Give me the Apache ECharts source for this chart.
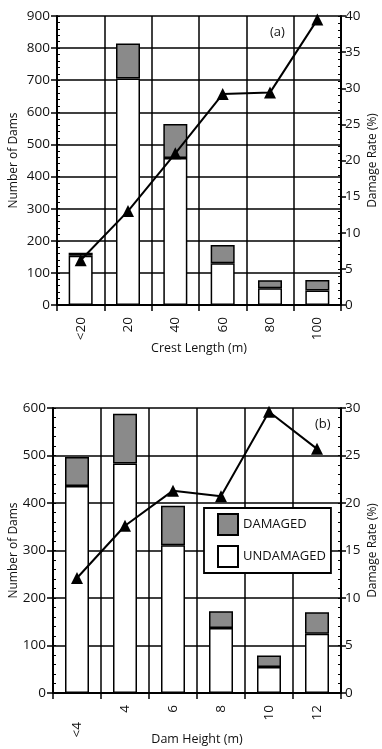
<!DOCTYPE html>
<html><head><meta charset="utf-8">
<script src="https://cdn.jsdelivr.net/npm/echarts@6/dist/echarts.min.js"></script>
<style>html,body{margin:0;padding:0;background:#fff}#c{width:382px;height:749px}</style>
</head><body><div id="c"></div>
<script>
const crestCats = ['<20', '20', '40', '60', '80', '100'];
const crestUndamaged = [153, 705, 458, 130, 52, 45];
const crestDamaged = [10, 109, 106, 57, 25, 33];
const crestRate = [6.2, 13.0, 21.0, 29.2, 29.4, 39.5];

const heightCats = ['<4', '4', '6', '8', '10', '12'];
const heightUndamaged = [436, 483, 311, 137, 55, 125];
const heightDamaged = [61, 105, 83, 35, 24, 45];
const heightRate = [12.1, 17.6, 21.3, 20.7, 29.6, 25.7];

const countAxisA = {min: 0, max: 900, interval: 100};
const rateAxisA = {min: 0, max: 40, interval: 5};
const countAxisB = {min: 0, max: 600, interval: 100};
const rateAxisB = {min: 0, max: 30, interval: 5};

const FONT = 'Open Sans';
const GRAY = '#8a8a8a';
const chart = echarts.init(document.getElementById('c'), null, {renderer: 'canvas'});

function xAxis(gi, cats, name, fmt) {
  return {
    type: 'category', gridIndex: gi, data: cats,
    name: name, nameLocation: 'middle', nameGap: gi === 0 ? 37 : 40, nameMoveOverlap: false,
    nameTextStyle: {fontFamily: FONT, fontSize: 12.5, color: '#111'},
    axisLine: {show: true, lineStyle: {color: '#000', width: 2}},
    axisTick: {show: true, length: 6, lineStyle: {color: '#000', width: 1.5}},
    axisLabel: {rotate: 90, margin: 12, fontFamily: FONT, fontSize: 13.5, color: '#111', formatter: fmt, rich: {off: {fontFamily: FONT, fontSize: 13.5, color: '#111', padding: [0, 17, 0, 0]}}},
    splitLine: {show: true, lineStyle: {color: '#000', width: 1.5}}
  };
}
function leftAxis(gi, cfg) {
  return Object.assign({
    type: 'value', gridIndex: gi, position: 'left',
    name: 'Number of Dams', nameLocation: 'middle', nameRotate: 90, nameGap: gi === 0 ? 37 : 33, nameMoveOverlap: false,
    nameTextStyle: {fontFamily: FONT, fontSize: 12, color: '#111'},
    axisLine: {show: true, lineStyle: {color: '#000', width: 2}},
    axisTick: {show: true, length: 6, lineStyle: {color: '#000', width: 1.5}},
    axisLabel: {margin: 7, fontFamily: FONT, fontSize: 13.5, color: '#111'},
    splitLine: {show: true, lineStyle: {color: '#000', width: 1.5}}
  }, cfg);
}
function rightAxis(gi, cfg) {
  return Object.assign({
    type: 'value', gridIndex: gi, position: 'right',
    name: 'Damage Rate (%)', nameLocation: 'middle', nameRotate: 90, nameGap: 26, nameMoveOverlap: false,
    nameTextStyle: {fontFamily: FONT, fontSize: 12, color: '#111'},
    axisLine: {show: true, lineStyle: {color: '#000', width: 2}},
    axisTick: {show: true, length: 5, lineStyle: {color: '#000', width: 1.5}},
    axisLabel: {margin: 4, fontFamily: FONT, fontSize: 13.5, color: '#111'},
    splitLine: {show: false}
  }, cfg);
}
function minorAxis(gi, pos, cfg) {
  return Object.assign({
    type: 'value', gridIndex: gi, position: pos,
    axisLine: {show: false}, axisLabel: {show: false}, splitLine: {show: false},
    axisTick: {show: true, inside: true, length: 3, lineStyle: {color: '#000', width: 1}},
    minorTick: {show: true, splitNumber: 5, length: 3, lineStyle: {color: '#000', width: 1}}
  }, cfg);
}
const barStyleU = {color: '#fff', borderColor: '#000', borderWidth: 1.5};
const barStyleD = {color: GRAY, borderColor: '#000', borderWidth: 1.5};

chart.setOption({
  animation: false,
  backgroundColor: '#fff',
  textStyle: {fontFamily: FONT},
  grid: [
    {left: 57, right: 41, top: 16, height: 289, containLabel: false, outerBoundsMode: 'none'},
    {left: 53, right: 41, top: 408, height: 285, containLabel: false, outerBoundsMode: 'none'}
  ],
  title: [
    {text: '(a)', left: 265, top: 21, textStyle: {fontFamily: FONT, fontSize: 13, fontWeight: 'normal', color: '#111'}},
    {text: '(b)', left: 310, top: 413, textStyle: {fontFamily: FONT, fontSize: 13, fontWeight: 'normal', color: '#111'}}
  ],
  legend: {
    data: ['DAMAGED', 'UNDAMAGED'], orient: 'vertical', left: 204, top: 508, icon: 'rect',
    padding: [5, 5, 5, 13], itemGap: 9, itemWidth: 20, itemHeight: 21,
    backgroundColor: '#fff', borderColor: '#000', borderWidth: 1.8,
    textStyle: {fontFamily: FONT, fontSize: 13, color: '#111'},
    z: 20
  },
  xAxis: [
    xAxis(0, crestCats, 'Crest Length (m)'),
    xAxis(1, heightCats, 'Dam Height (m)', function (v) { return v === heightCats[0] ? '{off|' + v + '}' : v; })
  ],
  yAxis: [
    leftAxis(0, countAxisA),
    rightAxis(0, rateAxisA),
    minorAxis(0, 'left', countAxisA),
    minorAxis(0, 'right', rateAxisA),
    leftAxis(1, countAxisB),
    rightAxis(1, rateAxisB),
    minorAxis(1, 'left', countAxisB),
    minorAxis(1, 'right', rateAxisB)
  ],
  series: [
    {type: 'bar', name: 'UNDAMAGED_A', xAxisIndex: 0, yAxisIndex: 0, stack: 'a', barWidth: 24, data: crestUndamaged, itemStyle: barStyleU},
    {type: 'bar', name: 'DAMAGED_A', xAxisIndex: 0, yAxisIndex: 0, stack: 'a', barWidth: 24, data: crestDamaged, itemStyle: barStyleD},
    {type: 'line', name: 'RATE_A', xAxisIndex: 0, yAxisIndex: 1, data: crestRate, symbol: 'triangle', symbolSize: 12,
      lineStyle: {color: '#000', width: 2}, itemStyle: {color: '#000'}, z: 5},
    {type: 'bar', name: 'UNDAMAGED', xAxisIndex: 1, yAxisIndex: 4, stack: 'b', barWidth: 24, data: heightUndamaged, itemStyle: barStyleU},
    {type: 'bar', name: 'DAMAGED', xAxisIndex: 1, yAxisIndex: 4, stack: 'b', barWidth: 24, data: heightDamaged, itemStyle: barStyleD},
    {type: 'line', name: 'RATE_B', xAxisIndex: 1, yAxisIndex: 5, data: heightRate, symbol: 'triangle', symbolSize: 12,
      lineStyle: {color: '#000', width: 2}, itemStyle: {color: '#000'}, z: 5}
  ]
});
</script></body></html>
